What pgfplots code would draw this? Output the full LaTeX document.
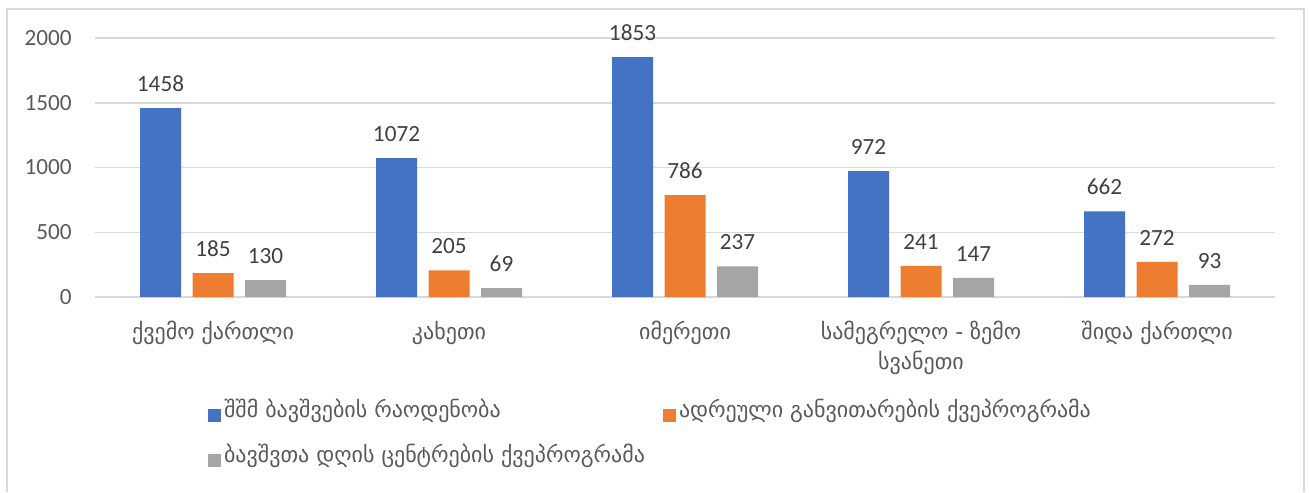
\documentclass[border=0pt]{standalone}
\usepackage{fontspec}
\setmainfont{Carlito}
\newfontfamily\geo{DejaVu Sans}
\usepackage{pgfplots}
\pgfplotsset{compat=1.18}
\definecolor{cblue}{HTML}{4472C4}
\definecolor{corange}{HTML}{ED7D31}
\definecolor{cgray}{HTML}{A5A5A5}
\definecolor{cgrid}{HTML}{D9D9D9}
\definecolor{ctick}{HTML}{595959}
\definecolor{clab}{HTML}{404040}
\begin{document}
\begin{tikzpicture}
\path[use as bounding box] (0,0) rectangle (654.5pt,-246pt);
\draw[cgrid, line width=0.75pt] (3.5pt,-246pt) -- (3.5pt,-4.5pt) -- (652pt,-4.5pt) -- (652pt,-246pt);
\begin{axis}[
  at={(47.5pt,-148.5pt)}, anchor=south west,
  scale only axis, width=590pt, height=129.5pt,
  xmin=-0.5, xmax=4.5, ymin=0, ymax=2000,
  ybar=5.75pt, bar width=20.5pt,
  axis line style={draw=none},
  axis x line*=bottom,
  x axis line style={draw=cgrid, line width=0.75pt},
  ytick={0,500,1000,1500,2000},
  ymajorgrids, grid style={cgrid, line width=0.75pt},
  major tick length=0pt,
  xtick={0,1,2,3,4},
  xticklabels={{ქვემო ქართლი},{კახეთი},{იმერეთი},{სამეგრელო - ზემო\\სვანეთი},{შიდა ქართლი}},
  xticklabel style={font=\geo\fontsize{11}{14.75}\selectfont, text=ctick, align=center, anchor=north, inner sep=0pt, yshift=-12pt},
  yticklabel style={font=\fontsize{11.6}{13}\selectfont, text=ctick, anchor=east, inner sep=0pt, xshift=-11.5pt},
  /pgf/number format/assume math mode=true,
  /pgf/number format/1000 sep={},
  nodes near coords,
  every node near coord/.append style={font=\fontsize{11.6}{13}\selectfont, text=clab, anchor=south, inner sep=0pt, yshift=8pt},
  legend columns=2,
  legend style={draw=none, fill=none, inner sep=0pt, outer sep=0pt, row sep=14.5pt,
    at={(0.0958,-0.4247)}, anchor=north west,
    font=\geo\fontsize{11}{13}\selectfont, text=ctick,
    nodes={inner sep=0pt, text height=5pt, text depth=3pt},
    /tikz/every odd column/.append style={column sep=1.5pt}},
  legend cell align=left,
  legend image code/.code={\fill[#1] (0pt,-3.25pt) rectangle (6.5pt,3.25pt);},
]
\addplot[fill=cblue, draw=none] coordinates {(0,1458) (1,1072) (2,1853) (3,972) (4,662)};
\addlegendentry{\makebox[219.5pt][l]{შშმ ბავშვების რაოდენობა}}
\addplot[fill=corange, draw=none] coordinates {(0,185) (1,205) (2,786) (3,241) (4,272)};
\addlegendentry{ადრეული განვითარების ქვეპროგრამა}
\addplot[fill=cgray, draw=none] coordinates {(0,130) (1,69) (2,237) (3,147) (4,93)};
\addlegendentry{\makebox[219.5pt][l]{ბავშვთა დღის ცენტრების ქვეპროგრამა}}
\end{axis}
\end{tikzpicture}
\end{document}
